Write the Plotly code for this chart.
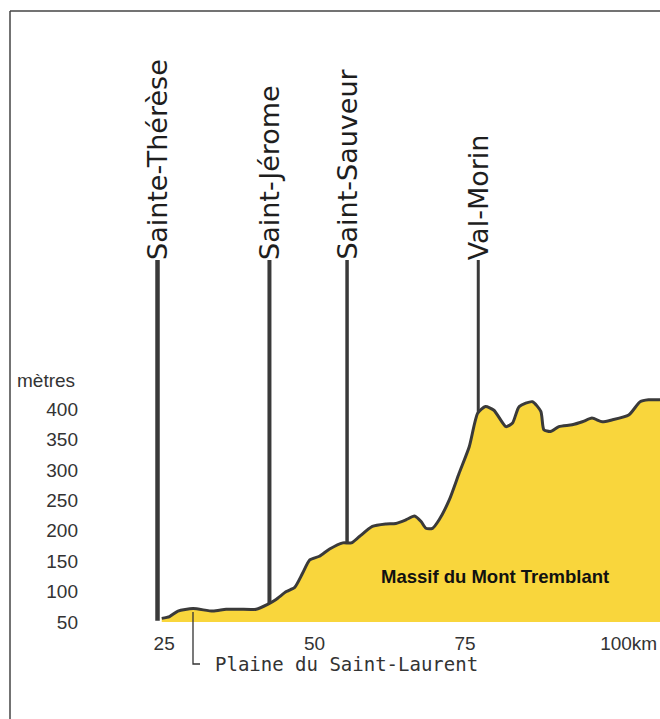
import numpy as np
import plotly.graph_objects as go

# ---- data ----
km = [24.6, 25.9, 27.3, 29.8, 33.1, 35.3, 37.5, 40.3, 42.2, 43.6, 45.3, 46.7, 48.0, 49.2,
      50.8, 52.5, 54.7, 56.1, 57.4, 59.6, 61.9, 63.5, 65.2, 66.6, 67.7, 68.5, 69.6, 70.7,
      72.4, 74.0, 75.7, 77.1, 78.4, 79.8, 81.8, 82.9, 84.0, 86.2, 87.6, 88.1, 89.2, 90.6,
      92.8, 94.5, 96.1, 97.8, 99.4, 102.2, 104.1, 105.5, 107.4]
altitude = [56, 59, 68, 72, 68, 71, 71, 71, 79, 87, 100, 107, 130, 152,
            158, 170, 180, 180, 190, 207, 211, 212, 218, 224, 215, 204, 204, 218,
            251, 294, 338, 393, 404, 398, 371, 377, 404, 412, 396, 366, 363, 371,
            374, 379, 385, 379, 382, 390, 412, 415, 415]

towns = ["Sainte-Thérèse", "Saint-Jérome", "Saint-Sauveur", "Val-Morin"]
town_km = [23.9, 42.5, 55.4, 77.2]
town_line_width = [4.5, 4, 3.5, 3]

y_ticks = [50, 100, 150, 200, 250, 300, 350, 400]
x_ticks = [25, 50, 75, 100]
x_ticktext = ["25", "50", "75", "\u00a0\u00a0\u00a0\u00a0\u00a0100km"]

# ---- figure ----
W, H = 660, 719
ML, MR, MT, MB = 85, 0, 40, 97
XR = [11.85, 107.4]
YR = [50, 50 + (H - MT - MB) / 0.6086]
pw, ph = W - ML - MR, H - MT - MB

def px_x(p):
    return (p - ML) / pw

def px_y(p):
    return (H - MB - p) / ph

LINE = "#3a3a3a"
FILL = "#F9D63C"

fig = go.Figure()
fig.add_trace(go.Scatter(
    x=km, y=altitude, mode="lines", fill="tozeroy", fillcolor=FILL,
    line=dict(color=LINE, width=3, shape="spline", smoothing=0.6),
    hoverinfo="skip", showlegend=False))

top_m = 50 + (H - MB - 260) / 0.6086
shapes = []
annotations = []
for name, k, w in zip(towns, town_km, town_line_width):
    bottom = float(np.interp(k, km, altitude, left=52))
    shapes.append(dict(type="line", xref="x", yref="y", x0=k, x1=k, y0=bottom, y1=top_m,
                       line=dict(color=LINE, width=w), layer="above"))
    annotations.append(dict(x=k, y=top_m, xref="x", yref="y", text=name, showarrow=False,
                            textangle=-90, xanchor="center", yanchor="bottom", xshift=0,
                            yshift=-2,
                            font=dict(family="DejaVu Sans", size=27, color="#1e1e1e")))

# frame
shapes.append(dict(type="line", xref="paper", yref="paper", x0=px_x(10), x1=px_x(660),
                   y0=px_y(11), y1=px_y(11), line=dict(color="#444", width=1.5)))
shapes.append(dict(type="line", xref="paper", yref="paper", x0=px_x(10), x1=px_x(10),
                   y0=px_y(11), y1=px_y(719), line=dict(color="#444", width=1.5)))
# bracket for plain
shapes.append(dict(type="path", xref="paper", yref="paper",
                   path=f"M {px_x(193)} {px_y(612)} L {px_x(193)} {px_y(664)} L {px_x(200)} {px_y(664)}",
                   line=dict(color="#333", width=1.3)))

annotations.append(dict(x=px_x(77), y=px_y(381), xref="paper", yref="paper", text="mètres",
                        showarrow=False, xanchor="right", yanchor="middle",
                        font=dict(family="Liberation Sans, Arial", size=19, color="#333")))
annotations.append(dict(x=px_x(213), y=px_y(664), xref="paper", yref="paper",
                        text="Plaine du Saint-Laurent", showarrow=False, xanchor="left",
                        yanchor="middle",
                        font=dict(family="DejaVu Sans Mono", size=19, color="#333")))
annotations.append(dict(x=80.0, y=124, xref="x", yref="y", text="<b>Massif du Mont Tremblant</b>",
                        showarrow=False, xanchor="center", yanchor="middle",
                        font=dict(family="Liberation Sans Narrow, Arial Narrow, Liberation Sans",
                                  size=18.5, color="#111")))

fig.update_layout(
    width=W, height=H, margin=dict(l=ML, r=MR, t=MT, b=MB),
    paper_bgcolor="white", plot_bgcolor="white",
    shapes=shapes, annotations=annotations, showlegend=False,
    xaxis=dict(range=XR, tickvals=x_ticks, ticktext=x_ticktext, showgrid=False,
               zeroline=False, showline=False, ticks="", ticklabelstandoff=8,
               tickfont=dict(family="Liberation Sans, Arial", size=19, color="#333")),
    yaxis=dict(range=YR, tickvals=y_ticks, showgrid=False, zeroline=False, showline=False,
               ticks="", ticklabelstandoff=6,
               tickfont=dict(family="Liberation Sans, Arial", size=19, color="#333")),
)

fig.write_html("out.html", config={"displayModeBar": False},
               post_script="document.body.style.margin='0';document.body.style.overflow='hidden';")
